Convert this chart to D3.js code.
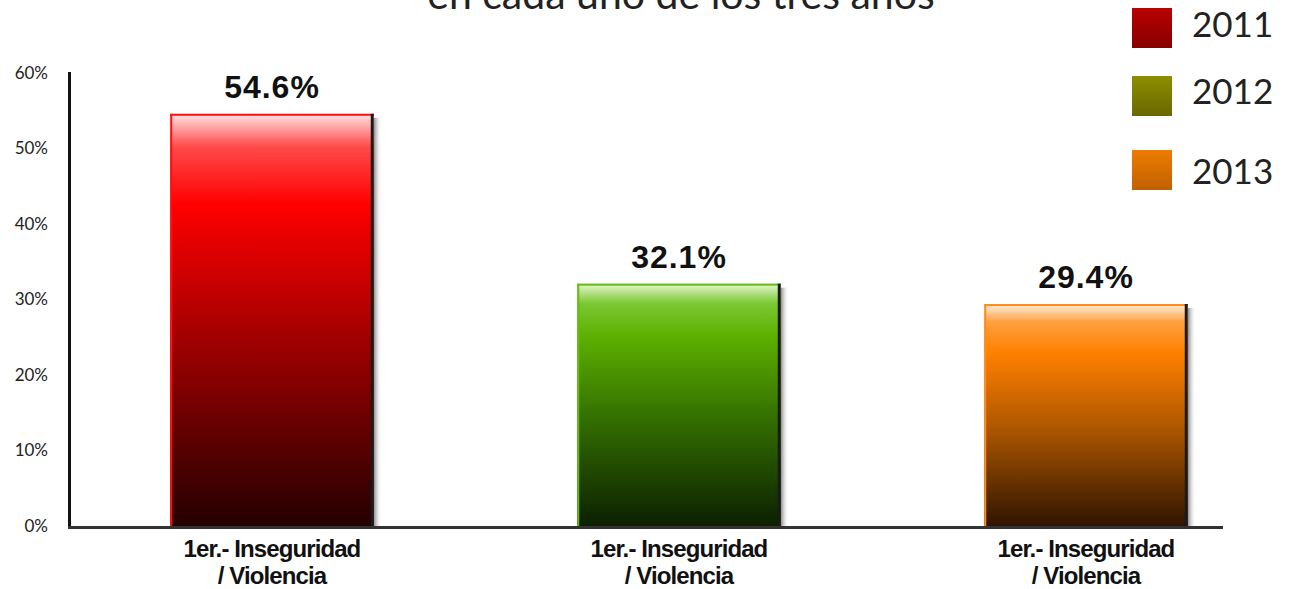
<!DOCTYPE html>
<html><head><meta charset="utf-8">
<script src="https://cdn.jsdelivr.net/npm/d3@7"></script>
<style>body{margin:0;background:#fff;overflow:hidden}</style>
</head><body>
<svg id="c" width="1290" height="589"></svg>
<script>
const categories = ["1er.- Inseguridad / Violencia (2011)", "1er.- Inseguridad / Violencia (2012)", "1er.- Inseguridad / Violencia (2013)"];
const catLines = [["1er.- Inseguridad", "/ Violencia"], ["1er.- Inseguridad", "/ Violencia"], ["1er.- Inseguridad", "/ Violencia"]];
const years = ["2011", "2012", "2013"];
const values = [54.6, 32.1, 29.4];
const valueLabels = ["54.6%", "32.1%", "29.4%"];
const yTicks = [0, 10, 20, 30, 40, 50, 60];
const title = "en cada uno de los tres años";

const barStops = [
  [["0", "#ffe4e4"], ["0.08", "#ff4a4a"], ["0.22", "#ff0000"], ["0.55", "#a00000"], ["1", "#250000"]],
  [["0", "#e6f7d2"], ["0.08", "#7cc833"], ["0.22", "#5cb000"], ["0.55", "#347000"], ["1", "#0c2000"]],
  [["0", "#fff0e0"], ["0.08", "#ffa040"], ["0.22", "#ff8000"], ["0.55", "#b05800"], ["1", "#301500"]]
];
const edgeColors = ["#ff1010", "#66bb11", "#ff8c1a"];
const legendStops = [["#b80000", "#880000"], ["#8e8e00", "#686800"], ["#ec7c00", "#c06000"]];

const svg = d3.select("#c");
const defs = svg.append("defs");
barStops.forEach((st, i) => {
  const g = defs.append("linearGradient").attr("id", "bg" + i).attr("x1", 0).attr("y1", 0).attr("x2", 0).attr("y2", 1);
  st.forEach(s => g.append("stop").attr("offset", s[0]).attr("stop-color", s[1]));
});
legendStops.forEach((st, i) => {
  const g = defs.append("linearGradient").attr("id", "lg" + i).attr("x1", 0).attr("y1", 0).attr("x2", 0).attr("y2", 1);
  g.append("stop").attr("offset", 0).attr("stop-color", st[0]);
  g.append("stop").attr("offset", 1).attr("stop-color", st[1]);
});
const sh = defs.append("linearGradient").attr("id", "shadow").attr("x1", 0).attr("x2", 1);
sh.append("stop").attr("offset", 0).attr("stop-color", "#888");
sh.append("stop").attr("offset", 1).attr("stop-color", "#fff").attr("stop-opacity", 0);

const x = d3.scaleBand().domain(categories).range([68.5, 1289.5]).paddingInner(0.5).paddingOuter(0.25);
const y = d3.scaleLinear().domain([0, 60]).range([526, 73]);

// title (cut off at top, as in the reference)
svg.append("text").attr("x", 681).attr("y", 9).attr("text-anchor", "middle")
  .attr("font-family", "Lato, 'Open Sans', sans-serif").attr("font-size", 41).attr("fill", "#222").text(title);

// y axis labels
const yAxis = d3.axisLeft(y).tickValues(yTicks).tickFormat(d => d + "%").tickSize(0).tickPadding(0);
const ya = svg.append("g").attr("transform", "translate(48,0)").call(yAxis);
ya.select(".domain").remove();
ya.selectAll("text").attr("font-family", "Lato, 'Open Sans', sans-serif").attr("font-size", 17).attr("fill", "#222").attr("dy", "0.32em");

// bars
const bars = svg.append("g");
categories.forEach((c, i) => {
  const bx = x(c), bw = x.bandwidth(), by = y(values[i]), bh = y(0) - y(values[i]);
  bars.append("rect").attr("x", bx + bw).attr("y", by + 4).attr("width", 8).attr("height", bh - 4).attr("fill", "url(#shadow)");
  bars.append("rect").attr("x", bx).attr("y", by).attr("width", bw).attr("height", bh).attr("fill", "url(#bg" + i + ")");
  bars.append("rect").attr("x", bx).attr("y", by).attr("width", 2).attr("height", bh).attr("fill", edgeColors[i]);
  bars.append("rect").attr("x", bx).attr("y", by).attr("width", bw).attr("height", 2).attr("fill", edgeColors[i]);
  bars.append("rect").attr("x", bx + bw - 3).attr("y", by).attr("width", 3).attr("height", bh).attr("fill", "#1a1a1a");
  svg.append("text").attr("x", bx + bw / 2).attr("y", by - 16).attr("text-anchor", "middle")
    .attr("font-family", "'Liberation Sans', Arial, sans-serif").attr("font-weight", "bold")
    .attr("font-size", 32).attr("letter-spacing", "1").attr("fill", "#111").text(valueLabels[i]);
  const t = svg.append("text").attr("text-anchor", "middle")
    .attr("font-family", "'Liberation Sans', Arial, sans-serif").attr("font-weight", "bold")
    .attr("font-size", 24).attr("letter-spacing", "-0.9").attr("fill", "#111");
  catLines[i].forEach((l, k) => t.append("tspan").attr("x", bx + bw / 2).attr("y", 557 + k * 27).text(l));
});

// axes lines
svg.append("line").attr("x1", 69.5).attr("x2", 69.5).attr("y1", 72).attr("y2", 528).attr("stroke", "#111").attr("stroke-width", 3);
svg.append("line").attr("x1", 68).attr("x2", 1223).attr("y1", y(0) + 1.5).attr("y2", y(0) + 1.5).attr("stroke", "#333").attr("stroke-width", 3);

// legend
const legY = [8, 76, 150];
const legTextY = [25, 92, 172];
years.forEach((yr, i) => {
  svg.append("rect").attr("x", 1132).attr("y", legY[i]).attr("width", 40).attr("height", 40).attr("fill", "url(#lg" + i + ")");
  svg.append("text").attr("x", 1192).attr("y", legTextY[i]).attr("dy", "0.35em")
    .attr("font-family", "Lato, 'Open Sans', sans-serif").attr("font-size", 35).attr("fill", "#222").text(yr);
});
</script>
</body></html>
